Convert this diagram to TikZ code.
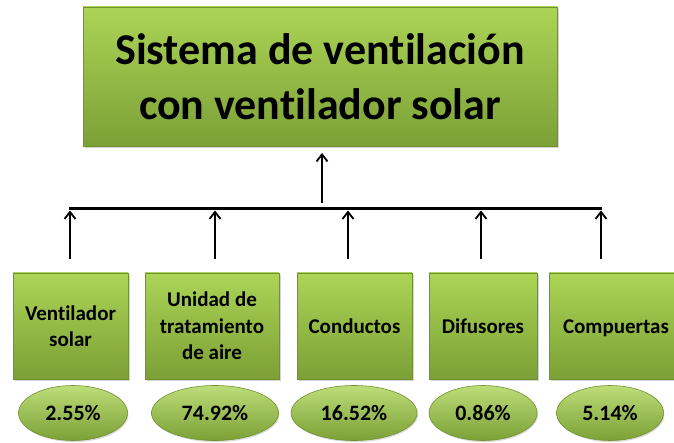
\documentclass[tikz,border=0pt]{standalone}
\usepackage{fontspec}
\setmainfont{Carlito}[Ligatures=NoCommon]
\usetikzlibrary{shapes.geometric,shadows,arrows.meta}

\definecolor{hojaclara}{RGB}{172,212,86}
\definecolor{hojaoscura}{RGB}{124,160,54}
\definecolor{hojaborde}{RGB}{112,146,48}

\begin{document}
\begin{tikzpicture}[x=1pt, y=-1pt,
    caja/.style={draw=hojaborde, line width=0.6pt, top color=hojaclara, bottom color=hojaoscura,
        drop shadow={shadow xshift=1.5pt, shadow yshift=-2pt, opacity=0.35},
        align=center, inner sep=0pt, font=\fontsize{21}{26.5}\selectfont\bfseries},
    parte/.style={caja, minimum height=106pt},
    unalinea/.style={text height=18pt, text depth=2pt},
    valor/.style={ellipse, draw=hojaborde, line width=0.6pt, top color=hojaclara!80!white,
        bottom color=hojaoscura, drop shadow={shadow xshift=1pt, shadow yshift=-1.5pt, opacity=0.3},
        inner sep=0pt, minimum height=55pt, font=\fontsize{22}{26}\selectfont\bfseries},
    flecha/.style={line width=1.8pt, -{Straight Barb[length=7pt, width=11pt, line width=1.8pt]}}]
    \useasboundingbox (0,0) rectangle (674,443);

    % Sistema completo
    \node[caja, minimum width=474pt, minimum height=139pt, font=\fontsize{44}{55}\selectfont\bfseries]
        (sistema) at (320,76.5) {Sistema de ventilación\\con ventilador solar};

    % Componentes
    \node[parte, minimum width=115pt] (p1) at (70.5,326) {Ventilador\\solar};
    \node[parte, minimum width=134pt] (p2) at (212,326) {Unidad de\\tratamiento\\de aire};
    \node[parte, unalinea, minimum width=115pt] (p3) at (354.5,326) {Conductos};
    \node[parte, unalinea, minimum width=108pt] (p4) at (483,326) {Difusores};
    \node[parte, unalinea, minimum width=134pt] (p5) at (616,326) {Compuertas};

    % Porcentajes
    \node[valor, minimum width=109pt] (v1) at (73,413) {2.55\%};
    \node[valor, minimum width=127pt] (v2) at (215,413) {74.92\%};
    \node[valor, minimum width=126pt] (v3) at (354,413) {16.52\%};
    \node[valor, minimum width=108pt] (v4) at (483,413) {0.86\%};
    \node[valor, minimum width=107pt] (v5) at (610,413) {5.14\%};

    % Barra colectora
    \coordinate (b1) at (70,209);
    \coordinate (b2) at (215,209);
    \coordinate (b3) at (348,209);
    \coordinate (b4) at (481,209);
    \coordinate (b5) at (601,209);
    \coordinate (bc) at (322,203);
    \coordinate (ct) at (322,153);
    \draw[line width=3pt] ([xshift=-1pt]b1) -- ([xshift=1pt]b5);
    \draw[flecha] (bc) -- (ct);

    % Flechas hacia la barra
    \foreach \i in {1,...,5}
        \draw[flecha] ([yshift=-50pt]b\i) -- ([yshift=-1.5pt]b\i);
\end{tikzpicture}
\end{document}
